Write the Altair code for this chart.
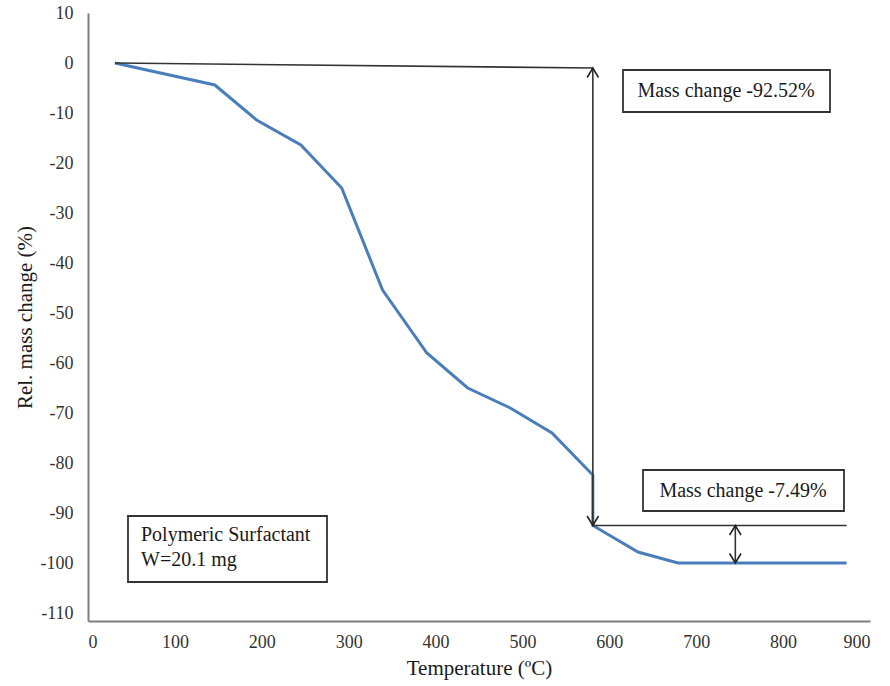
import altair as alt
import pandas as pd

# TGA curve (temperature in °C, relative mass change in %)
temperature = [31, 146, 194, 245, 292, 339, 390, 437, 486, 534, 581, 581, 633, 679, 873]
mass_change = [0, -4.4, -11.4, -16.4, -25, -45.4, -58, -65, -69, -74, -82.4, -92.5, -97.8, -100, -100]

# annotation segments (data coordinates)
seg_x1 = [31, 581, 581, 745]
seg_y1 = [0, -1, -92.5, -92.5]
seg_x2 = [581, 581, 873, 745]
seg_y2 = [-1, -92.5, -92.5, -100]

# arrow heads
head_x = [581, 581, 745, 745]
head_y = [-1, -92.5, -92.5, -100]
head_dir = ["up", "down", "up", "down"]

x_ticks = [0, 100, 200, 300, 400, 500, 600, 700, 800, 900]
y_ticks = [10, 0, -10, -20, -30, -40, -50, -60, -70, -80, -90, -100, -110]

label_1 = "Mass change -92.52%"
label_2 = "Mass change -7.49%"
label_3 = ["Polymeric Surfactant", "W=20.1 mg"]

FONT = "Liberation Serif"
W, H = 782, 608

curve_df = pd.DataFrame({"T": temperature, "m": mass_change, "i": range(len(temperature))})
seg_df = pd.DataFrame({"x1": seg_x1, "y1": seg_y1, "x2": seg_x2, "y2": seg_y2})
head_df = pd.DataFrame({"x": head_x, "y": head_y, "d": head_dir})

xscale = alt.Scale(domain=[0, 900], nice=False, zero=False)
yscale = alt.Scale(domain=[-111.6, 10], nice=False, zero=False)

xenc = alt.X("T:Q", scale=xscale,
             axis=alt.Axis(values=x_ticks, title="Temperature (ºC)", format="d"))
yenc = alt.Y("m:Q", scale=yscale,
             axis=alt.Axis(values=y_ticks, title="Rel. mass change (%)", format="d",
                           labelExpr="replace(datum.label, '\u2212', '-')"))

curve = alt.Chart(curve_df).mark_line(color="#4a7ebb", strokeWidth=3).encode(
    x=xenc, y=yenc, order="i:Q")

segs = alt.Chart(seg_df).mark_rule(color="#333333", strokeWidth=1.6).encode(
    x=alt.X("x1:Q", scale=xscale), y=alt.Y("y1:Q", scale=yscale),
    x2="x2:Q", y2="y2:Q")

up_path = "M-0.6,1 L0,0 L0.6,1"
down_path = "M-0.6,-1 L0,0 L0.6,-1"
heads_up = alt.Chart(head_df).transform_filter(alt.datum.d == "up").mark_point(
    shape=up_path, filled=False, color="#222222", strokeWidth=1.6, size=360, opacity=1).encode(
    x=alt.X("x:Q", scale=xscale), y=alt.Y("y:Q", scale=yscale))
heads_down = alt.Chart(head_df).transform_filter(alt.datum.d == "down").mark_point(
    shape=down_path, filled=False, color="#222222", strokeWidth=1.6, size=360, opacity=1).encode(
    x=alt.X("x:Q", scale=xscale), y=alt.Y("y:Q", scale=yscale))

box_df = pd.DataFrame({"k": [0]})
def box(x1, x2, y1, y2):
    return alt.Chart(box_df).mark_rect(fill="white", stroke="#333333", strokeWidth=1.8).encode(
        x=alt.value(x1), x2=alt.value(x2), y=alt.value(y1), y2=alt.value(y2))

def txt(s, x, y, align="center"):
    return alt.Chart(pd.DataFrame({"s": [s]})).mark_text(
        font=FONT, fontSize=20, color="#1a1a1a", align=align, baseline="middle").encode(
        text="s:N", x=alt.value(x), y=alt.value(y))

layers = [
    curve, segs, heads_up, heads_down,
    box(535, 742, 57, 99), txt(label_1, 638, 78),
    box(555, 756, 457, 498), txt(label_2, 655, 478),
    box(40, 239, 503, 569), txt(label_3[0], 53, 522, "left"), txt(label_3[1], 53, 547, "left"),
]

chart = alt.layer(*layers).properties(
    width=W, height=H,
    autosize=alt.AutoSizeParams(type="none"),
    padding={"left": 88, "top": 13, "right": 20, "bottom": 65},
).configure_view(stroke=None).configure_axis(
    grid=False, ticks=False, domainColor="#7f7f7f", domainWidth=2,
    labelFont=FONT, labelFontSize=18, labelColor="#333333",
    titleFont=FONT, titleFontSize=21, titleFontWeight="normal", titleColor="#1a1a1a",
).configure_axisX(labelPadding=12, titlePadding=6).configure_axisY(labelPadding=15, titlePadding=5)

chart.save("out.html", embed_options={"renderer": "svg", "actions": False})
